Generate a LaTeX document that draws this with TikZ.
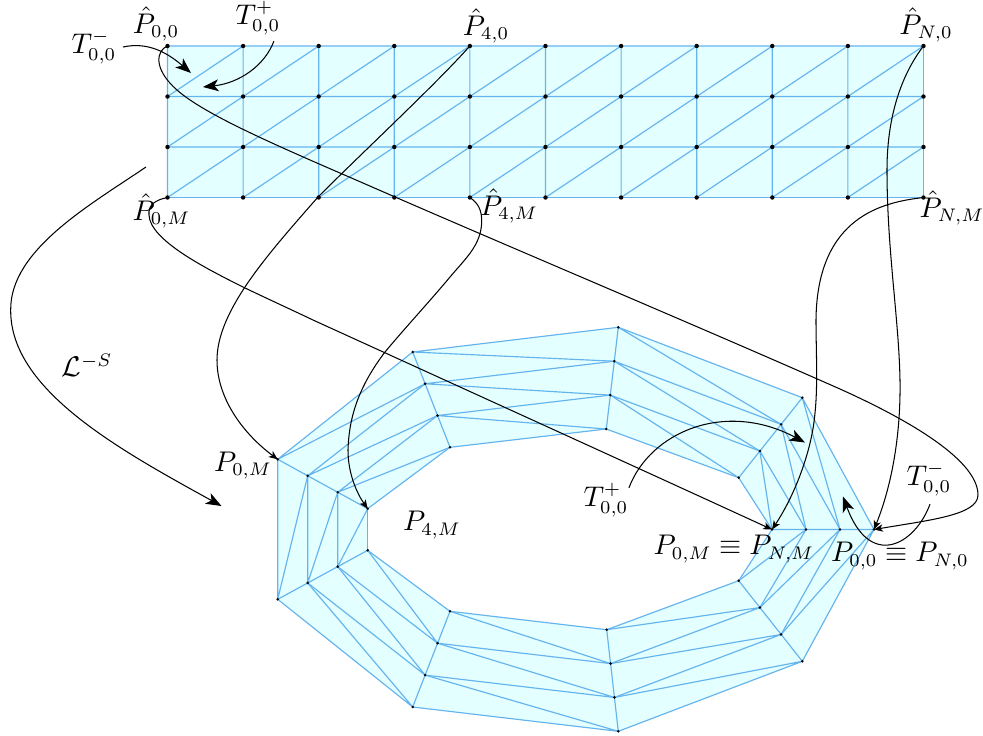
\documentclass[tikz,border=0pt]{standalone}
\usepackage{amsmath,amssymb}
\usepackage{xcolor}
\usetikzlibrary{calc,arrows.meta}
\DeclareMathSizes{10}{10.95}{7}{5}
\definecolor{meshfill}{HTML}{E3FFFF}
\definecolor{meshline}{HTML}{66B4EE}
\tikzset{
  edge/.style={meshline,line width=0.45pt},
  curve/.style={black,line width=0.4pt},
  tipsmall/.style={curve,-{Stealth[length=3.4pt,width=2.8pt,inset=0.9pt]}},
  tipbig/.style={curve,-{Stealth[length=6pt,width=4.6pt,inset=1.6pt]}},
  lab/.style={inner sep=0pt},
}
\begin{document}
\begin{tikzpicture}[x=0.385pt,y=-0.385pt]
\useasboundingbox (0,0) rectangle (983,736);
\def\cellpatch#1#2#3#4{
  \fill[meshfill] (#1-#2-#3) -- (#1-#4-#3) -- (#1-#4-\the\numexpr#3+1\relax) -- (#1-#2-\the\numexpr#3+1\relax) -- cycle;}
\def\celllines#1#2#3#4{
  \draw[edge] (#1-#2-#3) -- (#1-#4-#3) (#1-#2-#3) -- (#1-#2-\the\numexpr#3+1\relax) (#1-#4-#3) -- (#1-#2-\the\numexpr#3+1\relax);}
\foreach \i in {0,...,10}{\foreach \j in {0,...,3}{
  \coordinate (A-\i-\j) at ({167.5+75.6*\i},{46+50.5*\j});}}
\foreach \i/\xa/\ya/\xb/\yb in {0/874/529.5/772/529.5,1/802.3/397.7/738.7/477.7,2/618.3/327.3/606.3/429,3/412.7/352/450/447.3,4/277.7/459.3/367.7/508.7,5/277.7/599.3/367.7/550.3,6/412.7/707/450/611.3,7/618.3/731.3/606.7/629.7,8/802.3/661.3/738.7/580.7}{
  \foreach \j in {0,...,3}{\coordinate (B-\i-\j) at ($(\xa,\ya)!\j/3!(\xb,\yb)$);}}
\foreach \j in {0,1,2}{
  \foreach \i [evaluate=\i as \k using int(\i+1)] in {0,...,9}{\cellpatch{A}{\i}{\j}{\k}}
  \foreach \i [evaluate=\i as \k using {int(mod(\i+1,9))}] in {0,...,8}{\cellpatch{B}{\i}{\j}{\k}}}
\foreach \j in {0,1,2}{
  \foreach \i [evaluate=\i as \k using int(\i+1)] in {0,...,9}{\celllines{A}{\i}{\j}{\k}}
  \foreach \i [evaluate=\i as \k using {int(mod(\i+1,9))}] in {0,...,8}{\celllines{B}{\i}{\j}{\k}}
  \draw[edge] (A-10-\j) -- (A-10-\the\numexpr\j+1\relax);}
\foreach \i [evaluate=\i as \k using int(\i+1)] in {0,...,9}{\draw[edge] (A-\i-3) -- (A-\k-3);}
\foreach \i [evaluate=\i as \k using {int(mod(\i+1,9))}] in {0,...,8}{\draw[edge] (B-\i-3) -- (B-\k-3);}
\foreach \j in {0,...,3}{
  \foreach \i in {0,...,10}{\fill (A-\i-\j) circle (0.85pt);}
  \foreach \i in {0,...,8}{\fill (B-\i-\j) circle (0.55pt);}}
\node[lab] (phat00) at (156,24) {$\hat{P}_{0,0}$};
\node[lab] (phat40) at (486,26) {$\hat{P}_{4,0}$};
\node[lab] (phatN0) at (926,25) {$\hat{P}_{N,0}$};
\node[lab] (phat0M) at (161.5,211) {$\hat{P}_{0,M}$};
\node[lab] (phat4M) at (509,206) {$\hat{P}_{4,M}$};
\node[lab] (phatNM) at (952,208) {$\hat{P}_{N,M}$};
\node[lab] (tphat) at (258,18) {$T^{+}_{0,0}$};
\node[lab] (tmhat) at (94,47) {$T^{-}_{0,0}$};
\node[lab] (lmap) at (87,365) {$\mathcal{L}^{-S}$};
\node[lab] (p0M) at (243,465.5) {$P_{0,M}$};
\node[lab] (p4M) at (432,525) {$P_{4,M}$};
\node[lab] (tp) at (606,500) {$T^{+}_{0,0}$};
\node[lab] (tm) at (929,479) {$T^{-}_{0,0}$};
\node[lab] (pinner) at (734,549) {$P_{0,M}\equiv P_{N,M}$};
\node[lab] (pouter) at (900,556) {$P_{0,0}\equiv P_{N,0}$};
\coordinate (tiptm) at (191,73);
\coordinate (tiptp) at (203,87);
\coordinate (tiptplow) at (805,442.5);
\coordinate (tiptmlow) at (843,496.5);
\coordinate (lstart) at (146,167);
\coordinate (lend) at (221.5,506);
\draw[tipbig] ($(tmhat.east)+(6,0)$) .. controls (150,41) and (170,55) .. (tiptm);
\draw[tipbig] ($(tphat.south east)+(-7,6)$) .. controls (265,65) and (240,83) .. (tiptp);
\draw[tipbig] ($(tp.north east)+(0,5)$) .. controls (650,432) and (725,400) .. (tiptplow);
\draw[tipbig] ($(tm.south)+(1,8)$) .. controls (915,545) and (870,570) .. (tiptmlow);
\draw[tipbig] (lstart) .. controls (90,205) and (10,250) .. (10.7,310) .. controls (10,390) and (120,450) .. (lend);
\draw[tipsmall] (A-0-0) .. controls (157,50) and (152,68) .. (177,90) .. controls (205,115) and (280,147) .. (360,181.7) .. controls (500,243) and (700,327) .. (840,389) .. controls (900,416) and (978,458) .. (978,495) .. controls (978,515) and (930,520) .. (B-0-0);
\draw[tipsmall] (A-0-3) .. controls (155,200) and (148,205) .. (149,215) .. controls (150,240) and (205,268) .. (243,287) .. controls (270,300) and (290,309) .. (313,320) .. controls (460,387) and (625,462) .. (B-0-3);
\draw[tipsmall] (A-4-0) .. controls (435,85) and (365,150) .. (318,197) .. controls (270,252) and (217,310) .. (217,360) .. controls (217,400) and (245,435) .. (B-4-0);
\draw[tipsmall] (A-4-3) .. controls (478,203) and (482,210) .. (481.7,222) .. controls (481,245) and (466,258) .. (450,277) .. controls (430,301) and (405,328) .. (385,352) .. controls (360,385) and (349,415) .. (348,450) .. controls (348,475) and (358,495) .. (B-4-3);
\draw[tipsmall] (A-10-0) .. controls (905,70) and (887,110) .. (887,170) .. controls (887,250) and (899,320) .. (900,380) .. controls (901,440) and (890,490) .. (B-0-0);
\draw[tipsmall] (A-10-3) .. controls (885,202) and (817,215) .. (816,320) .. controls (816,350) and (818,385) .. (815,413) .. controls (812,450) and (795,495) .. (B-0-3);
\end{tikzpicture}
\end{document}
